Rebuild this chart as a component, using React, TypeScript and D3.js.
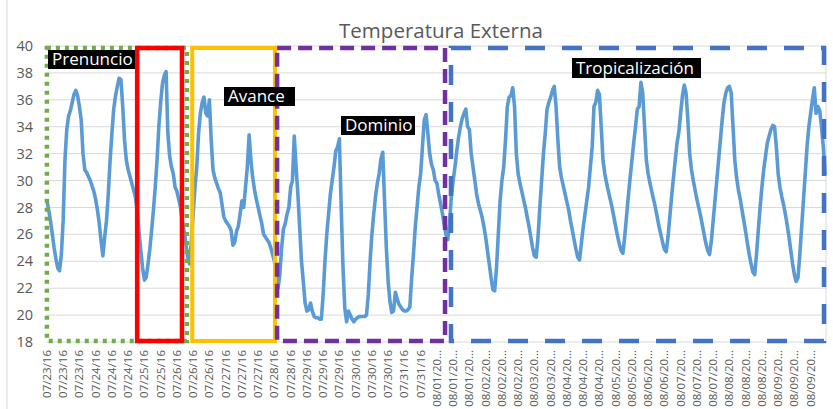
import React from "react";
import * as d3 from "d3";

// ---- Tick labels (one every 9 hourly points) ----
const tickLabels: string[] = [
  "07/23/16", "07/23/16", "07/23/16", "07/24/16", "07/24/16", "07/24/16", "07/25/16", "07/25/16",
  "07/26/16", "07/26/16", "07/26/16", "07/27/16", "07/27/16", "07/27/16", "07/28/16", "07/28/16",
  "07/29/16", "07/29/16", "07/29/16", "07/30/16", "07/30/16", "07/30/16", "07/31/16", "07/31/16",
  "08/01/20…", "08/01/20…", "08/01/20…", "08/02/20…", "08/02/20…", "08/02/20…", "08/03/20…", "08/03/20…",
  "08/04/20…", "08/04/20…", "08/04/20…", "08/05/20…", "08/05/20…", "08/06/20…", "08/06/20…", "08/07/20…",
  "08/07/20…", "08/07/20…", "08/08/20…", "08/08/20…", "08/08/20…", "08/09/20…", "08/09/20…", "08/09/20…",
];
const tickEvery = 9;

// ---- Hourly temperatures, one array per day ----
const t0723 = [28.5, 27.8, 27.0, 26.0, 25.0, 24.2, 23.5, 23.3, 24.5, 27.0, 31.5, 33.8, 34.8, 35.2, 35.8, 36.4, 36.7, 36.3, 35.5, 34.5, 32.0, 30.8, 30.6, 30.3];
const t0724 = [30.0, 29.6, 29.2, 28.6, 27.8, 26.8, 25.5, 24.4, 25.8, 27.0, 29.0, 31.5, 33.5, 35.3, 36.3, 37.0, 37.6, 37.5, 35.5, 33.0, 31.5, 30.8, 30.3, 29.8];
const t0725 = [29.3, 28.8, 27.8, 26.2, 24.8, 23.5, 22.6, 22.8, 23.8, 24.9, 26.3, 27.8, 29.5, 31.5, 34.0, 35.8, 37.2, 37.8, 38.1, 33.5, 31.8, 31.0, 30.5, 29.5];
const t0726 = [29.2, 28.6, 28.0, 27.0, 26.2, 25.3, 24.3, 23.8, 25.5, 27.5, 29.5, 31.0, 33.5, 35.0, 35.8, 36.2, 35.0, 34.8, 36.0, 33.0, 30.8, 30.2, 29.8, 29.4];
const t0727 = [29.1, 28.2, 27.3, 27.0, 26.8, 26.6, 26.3, 25.2, 25.4, 26.2, 26.6, 27.5, 28.5, 28.0, 29.5, 31.0, 33.4, 31.5, 30.2, 29.3, 28.6, 28.0, 27.4, 26.8];
const t0728 = [26.0, 25.8, 25.6, 25.4, 25.0, 24.5, 24.0, 23.0, 22.0, 23.0, 25.0, 26.4, 26.8, 27.5, 28.0, 29.5, 30.0, 33.3, 31.0, 29.0, 26.5, 24.0, 22.5, 20.9];
const t0729 = [20.3, 20.4, 20.9, 20.3, 19.9, 19.8, 19.8, 19.7, 19.7, 21.5, 24.0, 26.0, 27.5, 29.0, 30.0, 31.0, 32.2, 32.5, 33.1, 28.0, 23.5, 20.5, 19.5, 20.3];
const t0730 = [20.0, 19.7, 19.5, 19.7, 19.8, 19.9, 19.9, 19.9, 19.9, 20.0, 21.5, 24.0, 26.0, 27.5, 28.8, 29.8, 30.5, 31.6, 32.1, 28.5, 25.0, 22.5, 21.0, 20.2];
const t0731 = [20.3, 21.7, 21.2, 20.8, 20.6, 20.4, 20.3, 20.3, 20.4, 20.6, 22.7, 24.5, 26.5, 28.0, 29.5, 30.5, 32.5, 34.5, 34.9, 33.5, 32.0, 31.2, 30.8, 30.0];
const t0801 = [29.8, 29.0, 28.3, 27.6, 26.8, 26.0, 25.6, 26.8, 28.8, 30.0, 31.0, 32.2, 33.2, 34.0, 34.6, 35.0, 35.3, 34.0, 33.8, 32.0, 31.0, 30.0, 29.0, 28.3];
const t0802 = [27.8, 27.3, 26.6, 25.8, 24.8, 23.8, 22.8, 21.9, 21.8, 23.5, 26.0, 28.5, 30.0, 31.0, 33.0, 35.5, 36.2, 36.3, 36.9, 35.5, 32.0, 30.5, 29.8, 29.2];
const t0803 = [28.6, 28.0, 27.3, 26.6, 25.8, 25.0, 24.4, 24.3, 25.8, 28.0, 30.0, 32.0, 33.5, 35.3, 35.8, 36.2, 36.7, 37.0, 35.5, 33.0, 31.0, 30.2, 29.6, 29.0];
const t0804 = [28.4, 27.8, 27.0, 26.3, 25.6, 24.9, 24.3, 24.1, 25.3, 26.5, 27.5, 28.5, 29.5, 31.0, 32.5, 35.5, 35.8, 36.7, 36.4, 34.0, 31.5, 30.5, 29.8, 29.2];
const t0805 = [28.6, 28.0, 27.3, 26.6, 25.9, 25.3, 24.8, 24.6, 25.8, 27.3, 28.8, 30.2, 31.5, 32.8, 34.0, 35.3, 35.5, 37.3, 36.5, 34.0, 31.5, 30.5, 29.8, 29.2];
const t0806 = [28.6, 28.0, 27.3, 26.6, 26.0, 25.4, 24.9, 24.7, 25.8, 27.3, 28.8, 30.2, 31.5, 32.8, 33.6, 35.0, 36.3, 37.1, 36.5, 34.5, 32.0, 30.8, 30.0, 29.3];
const t0807 = [28.6, 28.0, 27.4, 26.7, 26.0, 25.3, 24.8, 24.5, 25.5, 27.0, 28.5, 30.0, 31.5, 33.0, 34.5, 35.8, 36.5, 36.9, 37.0, 36.5, 34.0, 31.5, 30.2, 29.3];
const t0808 = [28.6, 27.8, 27.0, 26.2, 25.3, 24.5, 23.8, 23.2, 23.0, 24.5, 26.3, 28.0, 29.5, 30.8, 31.8, 32.8, 33.3, 33.8, 34.1, 34.0, 32.5, 30.5, 29.5, 28.8];
const t0809 = [28.2, 27.5, 26.7, 25.8, 24.8, 23.8, 23.0, 22.5, 22.8, 24.5, 26.5, 28.5, 30.5, 32.5, 34.0, 35.0, 36.0, 36.9, 35.0, 35.5, 35.2, 34.0, 32.5, 30.5];

const temperatura: number[] = [
  ...t0723, ...t0724, ...t0725, ...t0726, ...t0727, ...t0728,
  ...t0729, ...t0730, ...t0731, ...t0801, ...t0802, ...t0803,
  ...t0804, ...t0805, ...t0806, ...t0807, ...t0808, ...t0809,
];

const yTicks = [18, 20, 22, 24, 26, 28, 30, 32, 34, 36, 38, 40];
const yDomain: [number, number] = [18, 40];

// ---- Phase annotations (in hourly-index units) ----
const phaseNames = ["Prenuncio", "", "Avance", "Dominio", "Tropicalización"];
const phaseFrom = [0.5, 50.5, 81, 128, 224.3];
const phaseTo = [78, 75.3, 126.8, 221, 430.9];

const W = 833;
const H = 409;
const M = { left: 46, right: 826, top: 46, bottom: 342 };

const phaseStyles = [
  { stroke: "#70AD47", dash: "4,5", width: 4.5 },
  { stroke: "#FF0000", dash: "", width: 4.5 },
  { stroke: "#FFC000", dash: "", width: 4 },
  { stroke: "#7030A0", dash: "14,7", width: 4.5 },
  { stroke: "#4472C4", dash: "20,17", width: 4.5 },
];
const labelBoxes = [
  { x: 48, y: 50, w: 92, h: 19, clip: true },
  null,
  { x: 224, y: 87, w: 71, h: 19, clip: false },
  { x: 341, y: 116, w: 74, h: 19, clip: false },
  { x: 572, y: 58, w: 129, h: 20, clip: false },
];

export default function App() {
  const n = temperatura.length;
  const x = d3.scaleBand<number>().domain(d3.range(n)).range([M.left, M.right]).padding(0);
  const xc = (i: number) => (x(i) as number) + x.bandwidth() / 2;
  const xe = d3.scaleLinear().domain([0, n]).range([M.left, M.right]);
  const y = d3.scaleLinear().domain(yDomain).range([M.bottom, M.top]);

  const line = d3
    .line<number>()
    .x((_, i) => xc(i))
    .y((d) => y(d));

  const font = "'Open Sans', 'DejaVu Sans', sans-serif";
  const boxTop = M.top + 2;
  const boxBottom = M.bottom - 1;

  return (
    <svg
      width={W}
      height={H}
      viewBox={`0 0 ${W} ${H}`}
      style={{ position: "absolute", left: 0, top: 0, background: "#fff" }}
    >
      <defs>
        <clipPath id="clipPren">
          <rect x={0} y={0} width={135} height={H} />
        </clipPath>
      </defs>
      <rect x={0} y={0} width={W} height={H} fill="#fff" />
      <line x1={7} x2={7} y1={0} y2={H} stroke="#D9D9D9" strokeWidth={1} />

      {/* title */}
      <text
        x={441}
        y={38}
        textAnchor="middle"
        fontFamily={font}
        fontSize={20.5}
        fill="#595959"
      >
        Temperatura Externa
      </text>

      {/* grid */}
      {yTicks.map((t) => (
        <line
          key={"g" + t}
          x1={M.left}
          x2={M.right}
          y1={y(t)}
          y2={y(t)}
          stroke="#D9D9D9"
          strokeWidth={1}
        />
      ))}
      <line x1={M.right} x2={M.right} y1={M.top} y2={M.bottom} stroke="#D9D9D9" strokeWidth={1} />

      {/* y tick labels */}
      {yTicks.map((t) => (
        <text
          key={"y" + t}
          x={33}
          y={y(t)}
          dy="0.35em"
          textAnchor="end"
          fontFamily={font}
          fontSize={14.5}
          fill="#595959"
        >
          {t}
        </text>
      ))}

      {/* x tick labels */}
      {tickLabels.map((lab, k) => {
        const xi = xc(k * tickEvery);
        return (
          <text
            key={"x" + k}
            transform={`translate(${xi},${350}) rotate(-90)`}
            dy="0.35em"
            textAnchor="end"
            fontFamily={font}
            fontSize={11.5}
            fill="#595959"
          >
            {lab}
          </text>
        );
      })}

      {/* series */}
      <path
        d={line(temperatura) || ""}
        fill="none"
        stroke="#5B9BD5"
        strokeWidth={3.6}
        strokeLinejoin="round"
        strokeLinecap="round"
      />

      {/* phase boxes */}
      {phaseNames.map((_, p) => {
        const s = phaseStyles[p];
        const x0 = xe(phaseFrom[p]);
        const x1 = xe(phaseTo[p]);
        return (
          <rect
            key={"b" + p}
            x={x0}
            y={boxTop}
            width={x1 - x0}
            height={boxBottom - boxTop}
            fill="none"
            stroke={s.stroke}
            strokeWidth={s.width}
            strokeDasharray={s.dash || undefined}
          />
        );
      })}

      {/* phase labels */}
      {phaseNames.map((name, p) => {
        const lb = labelBoxes[p];
        if (!lb || !name) return null;
        return (
          <g key={"l" + p} clipPath={lb.clip ? "url(#clipPren)" : undefined}>
            <rect x={lb.x} y={lb.y} width={lb.w} height={lb.h} fill="#000" />
            <text
              x={lb.x + 4}
              y={lb.y + lb.h - 4.5}
              fontFamily={font}
              fontSize={17}
              fill="#fff"
            >
              {name}
            </text>
          </g>
        );
      })}
    </svg>
  );
}
